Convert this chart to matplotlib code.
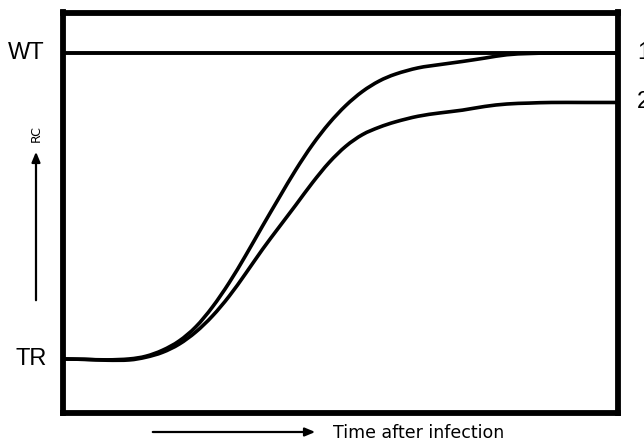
import matplotlib
matplotlib.use("Agg")
from matplotlib import pyplot as plt
from matplotlib.path import Path
from matplotlib.patches import PathPatch, FancyArrowPatch

# time after infection (arbitrary units) and relative RC (TR = 0, WT = 100)
t = [0, 4, 8, 12, 15, 18, 21, 24, 27, 30, 33, 36, 39, 42, 45, 48, 51, 54, 57,
     60, 64, 68, 72, 76, 80, 84, 88, 94, 100]
rc1 = [0, -0.13, -0.3, 0, 0.88, 2.84, 5.88, 10.5, 17.0, 24.9, 33.9, 43.4, 52.7,
       61.8, 70.0, 77.0, 82.8, 87.4, 90.8, 93.1, 95.1, 96.2, 97.2, 98.3, 99.4,
       99.8, 99.95, 100, 100]
rc2 = [0, -0.13, -0.42, -0.33, 0.56, 2.16, 4.84, 8.82, 14.05, 20.5, 28.0, 35.8,
       43.1, 50.3, 57.6, 64.2, 69.5, 73.3, 75.7, 77.5, 79.3, 80.4, 81.3, 82.5,
       83.3, 83.6, 83.8, 83.8, 83.8]
wt_level = 100
tr_level = 0
curve_names = ['1', '2']


def smooth_path(xs, ys):
    # Catmull-Rom spline through the points, as cubic bezier segments
    pts = list(zip(xs, ys))
    verts = [pts[0]]
    codes = [Path.MOVETO]
    n = len(pts)
    for i in range(n - 1):
        p0 = pts[max(i - 1, 0)]
        p1 = pts[i]
        p2 = pts[i + 1]
        p3 = pts[min(i + 2, n - 1)]
        c1 = (p1[0] + (p2[0] - p0[0]) / 6, p1[1] + (p2[1] - p0[1]) / 6)
        c2 = (p2[0] - (p3[0] - p1[0]) / 6, p2[1] - (p3[1] - p1[1]) / 6)
        verts += [c1, c2, p2]
        codes += [Path.CURVE4] * 3
    return Path(verts, codes)


W, H = 644, 442
fig = plt.figure(figsize=(W / 100, H / 100), dpi=100)
ax = fig.add_axes([62.5 / W, 1 - 412.5 / H, (618 - 62.5) / W, 400 / H])

ax.axhline(wt_level, color='black', lw=2.8)
for rc in (rc1, rc2):
    ax.add_patch(PathPatch(smooth_path(t, rc), fill=False, edgecolor='black',
                           lw=2.6, capstyle='butt'))

ax.set_xlim(0, 100)
ax.set_ylim(-17.5, 113.2)
ax.set_xticks([])
ax.set_yticks([])
for s in ax.spines.values():
    s.set_linewidth(4.2)
    s.set_color('black')
    s.set_zorder(5)

ylab = ax.get_yaxis_transform()
arial = 'Liberation Sans'
ax.text(-0.033, wt_level, 'WT', transform=ylab, ha='right', va='center',
        fontsize=17, family=arial)
ax.text(-0.028, tr_level, 'TR', transform=ylab, ha='right', va='center',
        fontsize=17, family=arial)
for name, end in zip(curve_names, [rc1[-1], rc2[-1]]):
    ax.text(1.034, end, name, transform=ylab, ha='left', va='center',
            fontsize=17, family=arial)


# axis arrows drawn in figure pixels
def fx(px):
    return px / W


def fy(py):
    return 1 - py / H


fig.add_artist(FancyArrowPatch(
    (fx(36), fy(303)), (fx(36), fy(149)), transform=fig.transFigure,
    arrowstyle='-|>,head_length=6,head_width=2.5', color='black', lw=1.6))
fig.text(fx(36), fy(134), 'RC', rotation=90, ha='center', va='center',
         fontsize=9, family='DejaVu Sans')

fig.add_artist(FancyArrowPatch(
    (fx(150), fy(432)), (fx(318), fy(432)), transform=fig.transFigure,
    arrowstyle='-|>,head_length=6,head_width=2.5', color='black', lw=1.6))
fig.text(fx(333), fy(433), 'Time after infection', ha='left', va='center',
         fontsize=12.5, family='DejaVu Sans')

fig.savefig('out.png', dpi=100)
